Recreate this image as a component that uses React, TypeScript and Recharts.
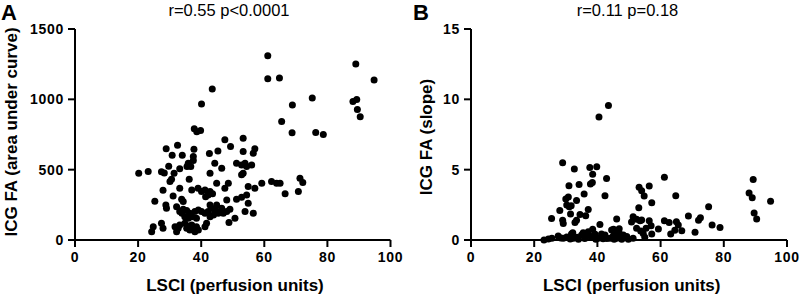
import React from "react";
import { ScatterChart, Scatter, XAxis, YAxis } from "recharts";

const xTicks = [0, 20, 40, 60, 80, 100];
const aucTicks = [0, 500, 1000, 1500];
const slopeTicks = [0, 5, 10, 15];

// Panel A: LSCI vs ICG area under curve
const aucLsci = [
  61.1, 61.1, 64.8, 43.5, 40.1, 89.0, 94.8, 75.2, 68.9, 65.5, 68.8, 76.3, 78.7, 88.1, 89.3, 89.5, 90.4, 37.8, 38.6, 39.8,
  20.2, 23.2, 27.4, 28.3, 28.9, 29.7, 30.8, 31.4, 30.6, 30.1, 32.5, 33.2, 34.0, 35.9, 36.7, 35.5, 37.5, 37.7, 37.5, 36.2,
  42.6, 42.8, 44.3, 45.3, 46.5, 47.5, 49.3, 53.3, 53.3, 56.5, 57.0, 51.2, 52.8, 53.9, 54.4, 56.0, 53.3, 52.8,
  27.9, 33.2, 37.0, 39.0, 40.1, 41.2, 42.8, 43.6, 42.2, 31.1, 44.9, 48.6, 47.5, 54.9, 57.0, 59.2, 62.3, 63.9, 65.0, 66.6,
  70.8, 71.3, 72.2, 52.8, 54.4, 41.4,
  33.8, 34.3, 25.3, 28.8, 29.0, 32.2, 34.3, 33.2, 35.4, 36.4, 38.0, 39.1, 40.1, 41.2, 42.2, 43.3, 44.3, 45.1, 34.8, 35.9,
  37.0, 38.5, 42.8, 48.1, 51.2, 54.9, 53.9, 56.5, 42.8, 44.9, 46.5, 47.0, 48.1, 49.1, 45.4, 43.9, 50.7, 33.9,
  41.7, 41.2, 24.8, 24.3, 27.4, 27.9, 31.7, 32.2, 32.7, 33.2, 34.8, 35.4, 35.9, 36.4, 37.0, 37.5, 38.5, 38.0, 39.1, 48.8,
];
const aucValues = [
  1310, 1146, 1151, 1073, 966, 1251, 1137, 1009, 959, 842, 762, 764, 750, 985, 999, 928, 876, 790, 770, 778,
  475, 487, 486, 477, 648, 524, 602, 475, 432, 415, 674, 507, 603, 546, 522, 522, 565, 645, 593, 432,
  615, 475, 546, 632, 510, 712, 664, 724, 629, 617, 648, 546, 534, 546, 522, 534, 475, 463,
  353, 368, 356, 368, 344, 356, 344, 328, 320, 313, 403, 403, 368, 380, 368, 403, 415, 403, 403, 328,
  344, 439, 408, 304, 320, 308,
  290, 273, 276, 249, 226, 237, 218, 202, 209, 190, 202, 214, 202, 190, 202, 226, 214, 202, 166, 154,
  166, 154, 166, 285, 290, 261, 202, 190, 249, 249, 226, 190, 202, 218, 190, 178, 154, 190,
  119, 95, 95, 59, 119, 83, 95, 59, 83, 107, 119, 83, 100, 71, 107, 83, 95, 59, 71, 125,
];

// Panel B: LSCI vs ICG slope
const slopeLsci = [
  43.5, 40.5, 29.0, 32.7, 37.6, 39.8, 38.5, 38.4, 37.8, 31.0, 34.2, 42.9, 35.8, 42.4, 30.0, 30.8, 33.4, 30.3, 31.1, 31.7,
  28.1, 37.1, 31.5, 34.5, 36.3, 40.8, 25.5, 29.0, 29.2, 32.9, 33.4, 46.1,
  23.1, 24.5, 25.6, 27.6, 28.4, 29.2, 30.3, 31.4, 31.8, 32.4, 32.2, 33.5, 35.0, 35.5, 36.6, 37.1, 38.2, 38.5, 39.2, 40.3,
  41.3, 42.4, 43.0, 44.0, 45.0, 46.1, 46.6, 45.1, 46.9, 44.5, 45.6, 47.1, 48.2, 49.3, 45.3, 47.7, 49.8, 51.3, 34.0, 36.0,
  39.5, 41.8,
  61.2, 53.2, 54.0, 56.4, 54.8, 57.2, 64.8, 53.1, 51.3, 52.4, 53.5, 54.0, 56.4, 57.0, 61.2, 62.7, 65.0, 65.6, 68.8, 72.0,
  72.6, 75.2, 52.4, 53.7, 54.5, 55.4, 59.3, 57.2, 55.0, 63.2, 64.5, 66.7, 70.9, 76.3, 78.8, 89.3, 88.0, 89.0, 94.8, 89.6,
  90.4, 50.8,
];
const slopeValues = [
  9.56, 8.75, 5.49, 5.04, 5.16, 5.2, 4.68, 4.08, 3.98, 3.85, 3.95, 4.38, 3.27, 3.15, 2.91, 3.05, 2.8, 2.48, 2.36, 2.43,
  2.1, 2.16, 1.85, 1.82, 1.72, 1.1, 1.52, 1.4, 1.18, 1.25, 1.4, 1.5,
  0.0, 0.07, 0.12, 0.28, 0.15, 0.12, 0.22, 0.07, 0.43, 0.12, 0.52, 0.2, 0.36, 0.52, 0.28, 0.59, 0.24, 0.76, 0.43, 0.12,
  0.43, 0.36, 0.1, 0.12, 0.28, 0.12, 0.52, 0.76, 0.8, 0.71, 0.59, 0.43, 0.36, 0.24, 0.05, 0.05, 0.05, 0.12, 0.05, 0.1,
  0.05, 0.08,
  4.46, 3.75, 3.51, 3.84, 3.13, 2.65, 3.15, 2.3, 1.66, 1.47, 1.37, 1.42, 1.37, 1.02, 1.37, 1.25, 1.3, 1.07, 1.71, 1.4,
  1.58, 2.37, 0.83, 0.64, 0.47, 0.83, 0.78, 0.43, 0.19, 0.42, 0.7, 0.66, 0.55, 1.07, 0.88, 4.3, 3.34, 3.0, 2.76, 1.92,
  1.5, 1.28,
];

const FONT = "'Liberation Sans', Arial, Helvetica, sans-serif";

const zip = (xs: number[], ys: number[]) => xs.map((x, i) => ({ x, y: ys[i] }));

const Dot = (p: any) => <circle cx={p.cx} cy={p.cy} r={3.5} fill="#000" />;

const tickFont = { fill: "#000", fontSize: 14, fontWeight: 700, fontFamily: FONT };
const axisStroke = { stroke: "#000", strokeWidth: 2 };

interface PanelProps {
  letter: string;
  letterX: number;
  title: string;
  titleX: number;
  yLabel: string;
  yLabelX: number;
  yLabelY: number;
  xLabelX: number;
  data: { x: number; y: number }[];
  yTicks: number[];
  yAxisWidth: number;
  rightMargin: number;
}

function Panel(p: PanelProps) {
  const yMax = p.yTicks[p.yTicks.length - 1];
  return (
    <ScatterChart
      width={400}
      height={297}
      margin={{ top: 29, right: p.rightMargin, bottom: 27, left: 0 }}
    >
      <XAxis
        type="number"
        dataKey="x"
        domain={[0, 100]}
        ticks={xTicks}
        interval={0}
        height={30}
        tickSize={7}
        tickMargin={5}
        axisLine={axisStroke}
        tickLine={axisStroke}
        tick={tickFont}
      />
      <YAxis
        type="number"
        dataKey="y"
        domain={[0, yMax]}
        ticks={p.yTicks}
        interval={0}
        width={p.yAxisWidth}
        tickSize={7}
        tickMargin={4}
        axisLine={axisStroke}
        tickLine={axisStroke}
        tick={tickFont}
      />
      <Scatter data={p.data} shape={Dot} isAnimationActive={false} />
      <text x={p.letterX} y={20} fontSize={22} fontWeight={700} fontFamily={FONT} fill="#000">
        {p.letter}
      </text>
      <text x={p.titleX} y={16} textAnchor="middle" fontSize={16.5} fontFamily={FONT} fill="#000">
        {p.title}
      </text>
      <text
        transform={`translate(${p.yLabelX},${p.yLabelY}) rotate(-90)`}
        textAnchor="middle"
        fontSize={17}
        fontWeight={700}
        fontFamily={FONT}
        fill="#000"
      >
        {p.yLabel}
      </text>
      <text x={p.xLabelX} y={291} textAnchor="middle" fontSize={17} fontWeight={700} fontFamily={FONT} fill="#000">
        LSCI (perfusion units)
      </text>
    </ScatterChart>
  );
}

export default function App() {
  return (
    <div
      style={{
        position: "absolute",
        left: 0,
        top: 0,
        width: 800,
        height: 297,
        display: "flex",
        background: "#fff",
      }}
    >
      <style>{`svg{overflow:visible}.recharts-cartesian-axis-tick-value{letter-spacing:0.7px}`}</style>
      <Panel
        letter="A"
        letterX={1}
        title="r=0.55 p<0.0001"
        titleX={229}
        yLabel="ICG FA (area under curve)"
        yLabelX={16.5}
        yLabelY={132}
        xLabelX={235}
        data={zip(aucLsci, aucValues)}
        yTicks={aucTicks}
        yAxisWidth={75}
        rightMargin={9.5}
      />
      <Panel
        letter="B"
        letterX={13}
        title="r=0.11 p=0.18"
        titleX={227.5}
        yLabel="ICG FA (slope)"
        yLabelX={32}
        yLabelY={137}
        xLabelX={231.7}
        data={zip(slopeLsci, slopeValues)}
        yTicks={slopeTicks}
        yAxisWidth={71}
        rightMargin={13}
      />
    </div>
  );
}
